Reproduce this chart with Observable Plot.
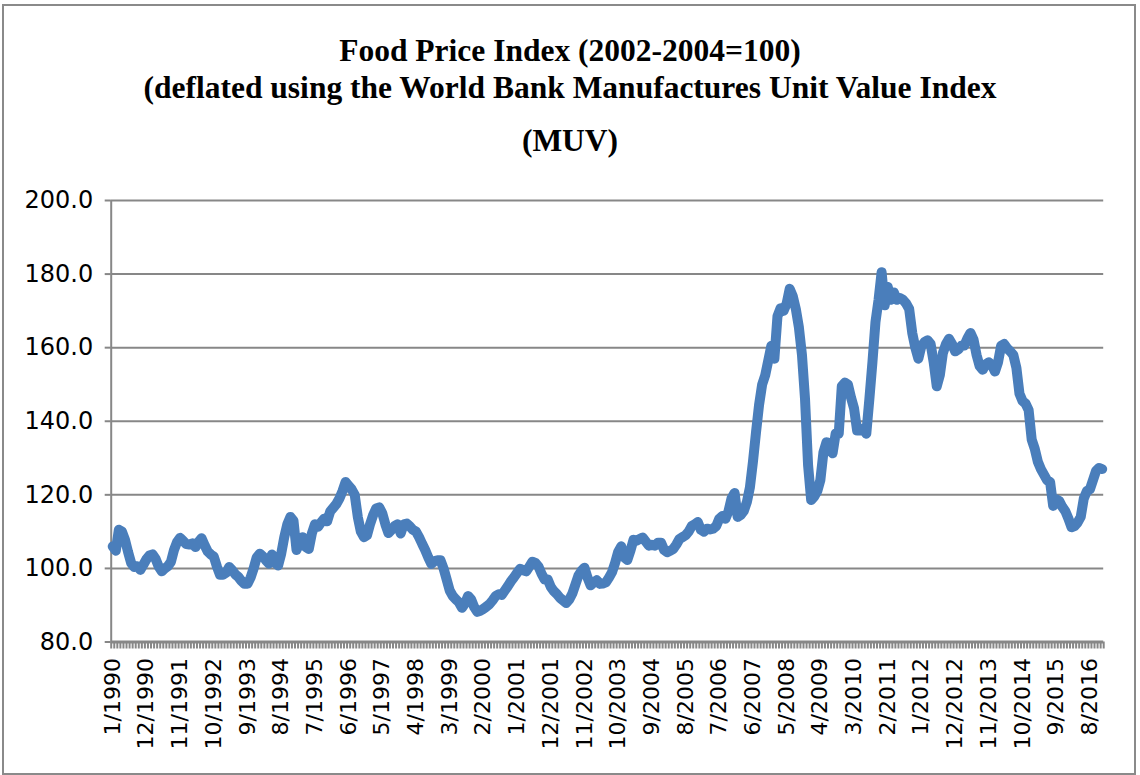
<!DOCTYPE html>
<html><head><meta charset="utf-8">
<script src="https://cdn.jsdelivr.net/npm/d3@7"></script>
<script src="https://cdn.jsdelivr.net/npm/@observablehq/plot@0.6"></script>
<style>
html,body{margin:0;padding:0;background:#fff;}
#wrap{position:relative;width:1140px;height:775px;overflow:hidden;background:#fff;}
#frame{position:absolute;left:2px;top:4px;width:1134px;height:771px;border:2px solid #8a8a8a;box-sizing:border-box;}
.tl{position:absolute;left:0;width:1140px;text-align:center;font-family:"Liberation Serif",serif;font-weight:bold;font-size:31.5px;line-height:31px;color:#000;white-space:nowrap;}
#chart{position:absolute;left:0;top:0;}
</style></head><body>
<div id="wrap"><div id="frame"></div><div id="titles"></div><div id="chart"></div></div>
<script>
const titleLines = [
  "Food Price Index (2002-2004=100)",
  "(deflated using the World Bank Manufactures Unit Value Index",
  "(MUV)"
];
const titleBaselines = [61, 98, 151];

const tickLabels = ["1/1990","12/1990","11/1991","10/1992","9/1993","8/1994","7/1995","6/1996","5/1997","4/1998","3/1999","2/2000","1/2001","12/2001","11/2002","10/2003","9/2004","8/2005","7/2006","6/2007","5/2008","4/2009","3/2010","2/2011","1/2012","12/2012","11/2013","10/2014","9/2015","8/2016"];
const yTicks = [80, 100, 120, 140, 160, 180, 200];

// Monthly values, January 1990 - December 2016
const v1990 = [106, 104.8, 110.5, 110, 107.8, 104.5, 101.5, 100.4, 100.6, 99.6, 101, 102.5];
const v1991 = [103.5, 103.8, 102.6, 100.5, 99.2, 100, 100.6, 101.8, 105, 107.2, 108.3, 107.5];
const v1992 = [106.6, 106.5, 106.8, 105.8, 107.2, 108.2, 106.3, 104.6, 103.8, 103.2, 100.5, 98.3];
const v1993 = [98.3, 98.8, 100.4, 99.5, 98.4, 97.7, 96.6, 95.8, 95.8, 97.5, 100, 103];
const v1994 = [104, 103.3, 102.2, 101.3, 103.8, 101.5, 100.8, 104, 108.5, 112, 114, 113];
const v1995 = [105, 107.5, 108.5, 105.8, 105.3, 109.5, 112, 111.3, 112.5, 113.5, 112.8, 115.5];
const v1996 = [116.5, 117.5, 119, 121, 123.5, 122.5, 121.5, 120, 114, 110, 108.5, 109];
const v1997 = [112, 114.5, 116.3, 116.6, 115, 112, 109.6, 110.5, 111.5, 112, 109.5, 112];
const v1998 = [112.2, 111.4, 110.5, 110, 108.5, 106.7, 105, 103, 101.2, 102, 102.2, 102.2];
const v1999 = [100, 97, 94, 92.5, 91.6, 90.8, 89.3, 90.5, 92.5, 91.6, 89.5, 88.2];
const v2000 = [88.5, 89, 89.6, 90.3, 91.3, 92.5, 93, 92.8, 94, 95.2, 96.5, 97.6];
const v2001 = [98.8, 99.9, 99.5, 99.2, 100.5, 101.8, 101.5, 100.5, 98.5, 97, 97, 95];
const v2002 = [93.8, 93, 92, 91.3, 90.6, 91.5, 93.1, 95.5, 98, 99.3, 100.2, 97.5];
const v2003 = [95.4, 96.2, 96.8, 95.8, 95.9, 96.2, 97.5, 99, 101.5, 104.5, 106, 103];
const v2004 = [102.3, 104.8, 107.8, 107.5, 108, 108.4, 107.3, 106.2, 106.4, 106.2, 107, 107];
const v2005 = [105, 104.4, 104.8, 105.3, 106.5, 108, 108.5, 109, 110, 111.5, 112, 112.6];
const v2006 = [110.5, 110, 110.8, 110.6, 110.8, 111.5, 113.5, 114.2, 113.5, 115.5, 119, 120.5];
const v2007 = [114, 114.5, 115.6, 118, 122, 129, 137, 144.5, 150, 152.5, 156.5, 160.5];
const v2008 = [157, 168.5, 170.7, 170, 172, 176, 174, 170.5, 165.5, 158, 146, 128];
const v2009 = [118.6, 119.5, 121, 124, 131.5, 134.3, 134, 131.3, 136.7, 136.6, 149.5, 150.5];
const v2010 = [150, 146.5, 143.5, 137.5, 137.5, 138, 136.6, 146, 156, 167, 173, 180.5];
const v2011 = [171.5, 176.5, 173, 175, 173, 173.5, 173, 172, 170.5, 164, 160, 157];
const v2012 = [160.5, 161.5, 162, 161, 156, 149.5, 152.5, 158.5, 161, 162.4, 161, 159];
const v2013 = [159.5, 160.5, 160.6, 162.5, 164, 162.2, 158, 155, 154, 155.5, 156, 155.3];
const v2014 = [153.5, 156, 160.5, 161, 159.8, 159, 158, 154.5, 147.5, 145.5, 144.8, 143];
const v2015 = [135, 132.5, 129, 127, 125.5, 124, 123.5, 117, 118.8, 118.3, 116.7, 115.5];
const v2016 = [113.5, 111.2, 111.5, 112.5, 114, 119, 121, 121.5, 124, 126.5, 127.3, 127];

const values = [].concat(v1990, v1991, v1992, v1993, v1994, v1995, v1996, v1997, v1998, v1999,
  v2000, v2001, v2002, v2003, v2004, v2005, v2006, v2007, v2008, v2009,
  v2010, v2011, v2012, v2013, v2014, v2015, v2016);

// titles
const tdiv = document.getElementById("titles");
titleLines.forEach((t, k) => {
  const d = document.createElement("div");
  d.className = "tl";
  d.style.top = (titleBaselines[k] - 26) + "px";
  d.textContent = t;
  tdiv.appendChild(d);
});

const data = values.map((v, i) => ({i, v}));
const boundaries = d3.range(-0.5, values.length, 1);
const labelIdx = tickLabels.map((_, k) => k * 11);
const gray = "#878787";

const chart = Plot.plot({
  width: 1140,
  height: 775,
  marginLeft: 110.7,
  marginRight: 36.8,
  marginTop: 200,
  marginBottom: 133.5,
  x: {domain: [-0.5, values.length - 0.5]},
  y: {domain: [80, 200]},
  style: {fontFamily: "DejaVu Sans", fontSize: "22px", color: "#000", background: "transparent", overflow: "visible"},
  marks: [
    Plot.gridY(yTicks.filter(d => d > 80), {stroke: gray, strokeOpacity: 1, strokeWidth: 2}),
    Plot.axisY(yTicks, {tickSize: 6, tickPadding: 12, fontSize: 24, tickFormat: d => d.toFixed(1), stroke: gray, strokeWidth: 2, label: null}),
    Plot.ruleX([-0.5], {stroke: gray, strokeWidth: 2}),
    Plot.axisX(boundaries, {tickSize: 7, tickFormat: () => "", stroke: gray, strokeWidth: 2, label: null}),
    Plot.ruleY([80], {stroke: gray, strokeWidth: 3}),
    Plot.axisX(labelIdx, {tickSize: 0, tickPadding: 16, tickRotate: -90, tickFormat: d => tickLabels[Math.round(d / 11)], label: null}),
    Plot.line(data, {x: "i", y: "v", stroke: "#4a7ebb", strokeWidth: 10, strokeLinejoin: "round", strokeLinecap: "round"})
  ]
});
document.getElementById("chart").appendChild(chart);
</script>
</body></html>
